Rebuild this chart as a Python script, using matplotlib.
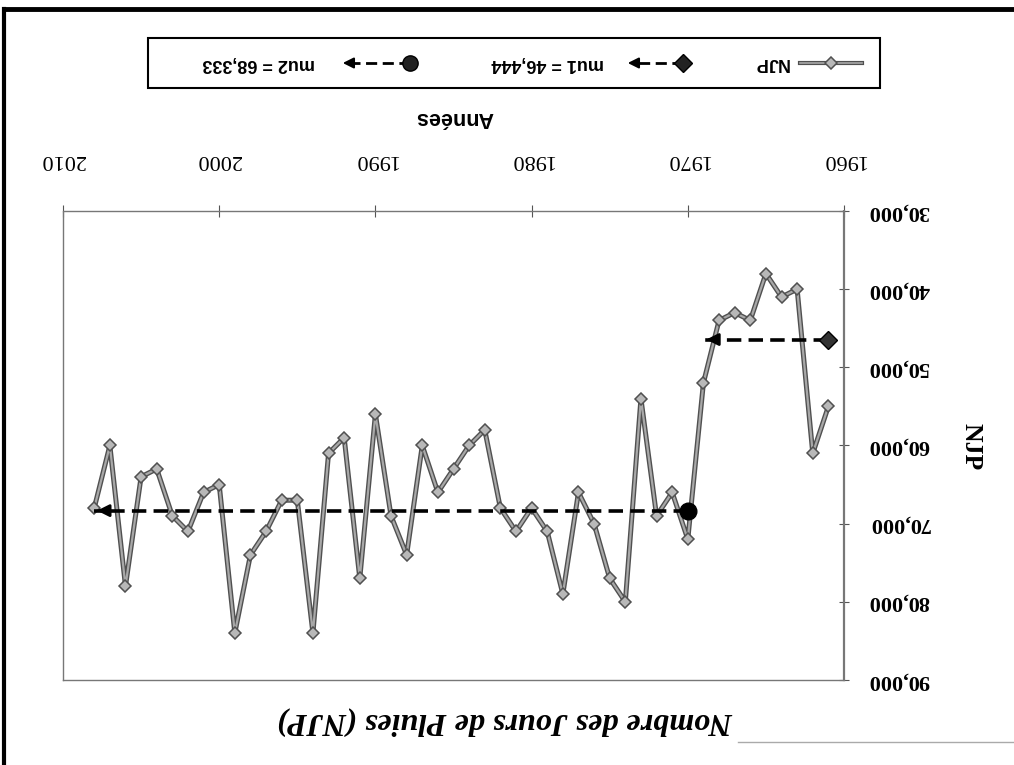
import matplotlib
matplotlib.use("Agg")
import matplotlib.pyplot as plt
from matplotlib.lines import Line2D
from matplotlib.patches import Rectangle, FancyArrowPatch
from matplotlib.ticker import FuncFormatter

# Nombre des jours de pluies par an (chart is printed upside down)
years = list(range(1961, 2009))
njp = [55, 61, 40, 41, 38, 44, 43, 44, 52,
       72, 66, 69, 54, 80, 77, 70, 66, 79, 71, 68,
       71, 68, 58, 60, 63, 66, 60, 74, 69, 56,
       77, 59, 61, 84, 67, 67, 71, 74, 84, 65,
       66, 71, 69, 63, 64, 78, 60, 68]
rupture = 1970
x_ticks = [1960, 1970, 1980, 1990, 2000, 2010]
y_ticks = [30, 40, 50, 60, 70, 80, 90]

n1 = years.index(rupture)
mu1 = sum(njp[:n1]) / n1
mu2 = sum(njp[n1:]) / (len(njp) - n1)


def fr(v):
    return f"{v:.3f}".replace('.', ',')


W, H = 1014, 765
fig = plt.figure(figsize=(W / 100, H / 100), dpi=100)


def px(x, y):
    return (x / W, 1 - y / H)


ax = fig.add_axes([63 / W, 1 - 680 / H, (844 - 63) / W, (680 - 211) / H])
ax.set_xlim(2010, 1960)
ax.set_ylim(90, 30)

# series
ax.plot(years, njp, color='#505050', lw=3.6, zorder=2)
ax.plot(years, njp, color='#a8a8a8', lw=1.6, marker='D', ms=6,
        mfc='#b8b8b8', mec='#505050', mew=1.1, zorder=3)

# means (x axis is reversed, so "later" is to the left)
y1 = years[:n1]
y2 = years[n1:]
arrow = dict(arrowstyle='-|>', color='black', lw=2, mutation_scale=18)
ax.plot([y1[0], y1[-1]], [mu1, mu1], color='black', ls=(0, (4, 2)), lw=2.6, zorder=4)
ax.plot(y1[0], mu1, marker='D', ms=9, color='#333333', mec='black', zorder=5)
ax.annotate('', xy=(y1[-1], mu1), xytext=(y1[-1] - 1, mu1), arrowprops=arrow, zorder=5)
ax.plot([y2[0], y2[-1]], [mu2, mu2], color='black', ls=(0, (4, 2)), lw=2.6, zorder=4)
ax.plot(y2[0], mu2, marker='o', ms=12, color='black', zorder=5)
ax.annotate('', xy=(y2[-1], mu2), xytext=(y2[-1] - 1, mu2), arrowprops=arrow, zorder=5)

# axes
ax.set_xticks(x_ticks)
ax.set_yticks(y_ticks)
ax.yaxis.set_major_formatter(FuncFormatter(lambda v, p: fr(v)))
ax.tick_params(axis='x', top=True, bottom=False, labeltop=True, labelbottom=False,
               direction='inout', length=9, width=0.8, color='#555555', pad=26,
               labelsize=16, labelrotation=180, labelfontfamily='Liberation Serif')
ax.tick_params(axis='y', left=False, right=True, labelleft=False, labelright=True,
               direction='inout', length=7, width=0.8, color='#555555', pad=14,
               labelsize=16, labelrotation=180, labelfontfamily='Liberation Serif')
for lab in ax.get_yticklabels():
    lab.set_fontweight('bold')
    lab.set_verticalalignment('center')
for name, s in ax.spines.items():
    s.set_color('#777777')
    s.set_linestyle((0, (1, 1)))
    s.set_linewidth(1.0)
ax.spines['right'].set_linewidth(1.6)

fig.text(*px(454, 118), 'Années', rotation=180, ha='center', va='center',
         family='Liberation Sans', weight='bold', fontsize=15.5)
fig.text(*px(971, 447), 'NJP', rotation=270, ha='center', va='center',
         family='Liberation Serif', weight='bold', fontsize=18.5)
fig.text(*px(505, 721), 'Nombre des Jours de Pluies (NJP)', rotation=180,
         ha='center', va='center', family='Liberation Serif', weight='bold',
         style='italic', fontsize=23)

# legend, drawn by hand so it can be upside down too
fig.add_artist(Rectangle(px(148, 88), 732 / W, 50 / H, transform=fig.transFigure,
                         fill=False, ec='black', lw=1.5))
ly = 63
fig.add_artist(Line2D(*zip(px(800, ly), px(862, ly)), transform=fig.transFigure,
                      color='#505050', lw=3))
fig.add_artist(Line2D(*zip(px(800, ly), px(862, ly)), transform=fig.transFigure,
                      color='#a8a8a8', lw=1.2))
fig.add_artist(Line2D([px(831, ly)[0]], [px(831, ly)[1]], transform=fig.transFigure,
                      marker='D', ms=6, mfc='#b8b8b8', mec='#505050', mew=1.1))
fig.text(*px(771, ly), 'NJP', rotation=180, ha='center', va='center',
         family='Liberation Sans', weight='bold', fontsize=13)

for xm, xa, mk, ms, label, xt in [(683, 625, 'D', 9, 'mu1 = ' + fr(mu1), 548),
                                   (410, 340, 'o', 11, 'mu2 = ' + fr(mu2), 259)]:
    fig.add_artist(Line2D(*zip(px(xm, ly), px(xa + 12, ly)), transform=fig.transFigure,
                          color='black', ls=(0, (4, 2)), lw=2))
    fig.add_artist(FancyArrowPatch(px(xa + 14, ly), px(xa, ly), transform=fig.transFigure,
                                   arrowstyle='-|>', color='black', lw=1.5, mutation_scale=16))
    fig.add_artist(Line2D([px(xm, ly)[0]], [px(xm, ly)[1]], transform=fig.transFigure,
                          marker=mk, ms=ms, color='#222222', mec='black'))
    fig.text(*px(xt, ly), label, rotation=180, ha='center', va='center',
             family='Liberation Sans', weight='bold', fontsize=13)

# scanned page frame
fig.add_artist(Line2D(*zip(px(4, 9), px(W, 9)), transform=fig.transFigure, color='black', lw=3.5))
fig.add_artist(Line2D(*zip(px(4, 9), px(4, H)), transform=fig.transFigure, color='black', lw=3))
fig.add_artist(Line2D(*zip(px(738, 742), px(W, 742)), transform=fig.transFigure,
                      color='#aaaaaa', lw=1))

fig.savefig('out.png', dpi=100)
